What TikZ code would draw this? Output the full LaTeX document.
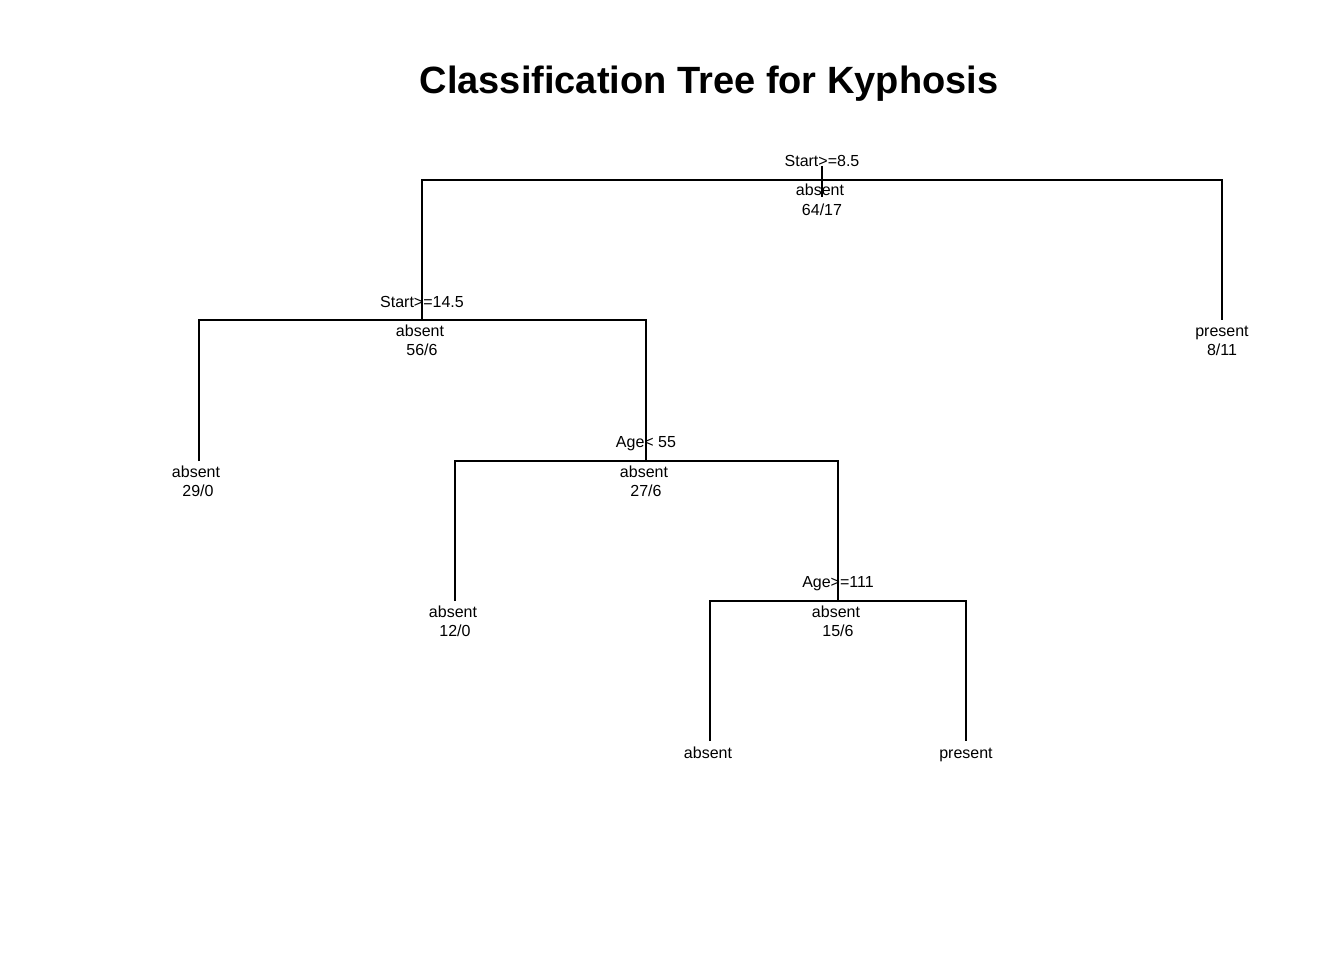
\documentclass[tikz,border=0pt]{standalone}
\usepackage{fontspec}
\setmainfont{Liberation Sans}
\begin{document}
\begin{tikzpicture}[x=1pt,y=-1pt,
  edge/.style={line width=1.6pt,black},
  lbl/.style={font=\fontsize{16}{19}\selectfont,anchor=base,inner sep=0pt},
  ttl/.style={font=\fontsize{38}{44}\selectfont\bfseries,anchor=base,inner sep=0pt}]
\useasboundingbox (0,0) rectangle (1344,960);
\fill[white] (0,0) rectangle (1344,960);
\node[ttl] (title) at (709,94) {Classification Tree for Kyphosis};
% tree node positions
\coordinate (n1) at (822,180);
\coordinate (n2) at (422,320);
\coordinate (n3) at (1222,320);
\coordinate (n4) at (199,461);
\coordinate (n5) at (646,461);
\coordinate (n6) at (455,601);
\coordinate (n7) at (838,601);
\coordinate (n8) at (710,741);
\coordinate (n9) at (966,741);
\coordinate (rtop) at (822,166);
\coordinate (rbot) at (822,197);
% connectors
\draw[edge] (rtop) -- (rbot);
\draw[edge] (n2) |- (n1) -| (n3);
\draw[edge] (n4) |- (n2) -| (n5);
\draw[edge] (n6) |- (n5) -| (n7);
\draw[edge] (n8) |- (n7) -| (n9);
% split labels
\node[lbl] (s1) at (822,167) {Start>=8.5};
\node[lbl] (s2) at (422,307) {Start>=14.5};
\node[lbl] (s5) at (646,447) {Age< 55};
\node[lbl] (s7) at (838,587) {Age>=111};
% node labels
\node[lbl] (c1) at (820,196) {absent};
\node[lbl] (f1) at (822,215) {64/17};
\node[lbl] (c2) at (420,336) {absent};
\node[lbl] (f2) at (422,355) {56/6};
\node[lbl] (c3) at (1222,336) {present};
\node[lbl] (f3) at (1222,355) {8/11};
\node[lbl] (c4) at (196,477) {absent};
\node[lbl] (f4) at (198,496) {29/0};
\node[lbl] (c5) at (644,477) {absent};
\node[lbl] (f5) at (646,496) {27/6};
\node[lbl] (c6) at (453,617) {absent};
\node[lbl] (f6) at (455,636) {12/0};
\node[lbl] (c7) at (836,617) {absent};
\node[lbl] (f7) at (838,636) {15/6};
\node[lbl] (c8) at (708,758) {absent};
\node[lbl] (c9) at (966,758) {present};
\end{tikzpicture}
\end{document}
